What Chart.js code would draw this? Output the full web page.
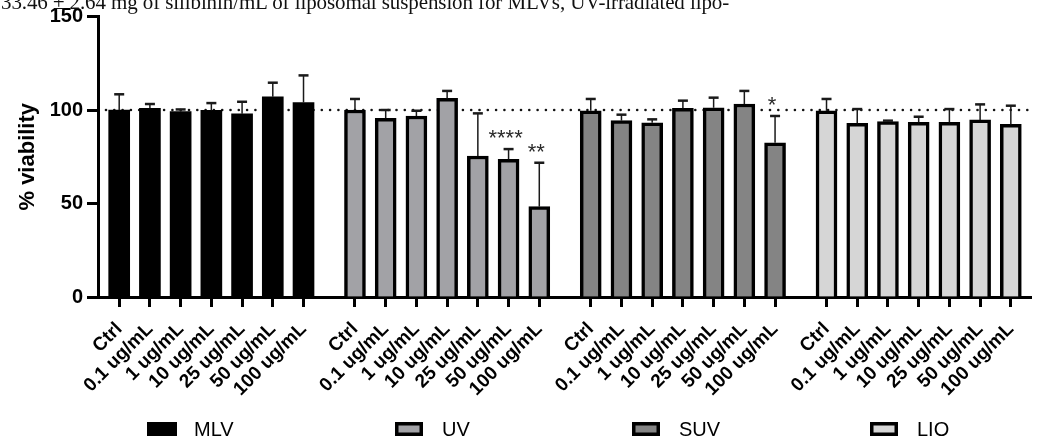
<!DOCTYPE html>
<html><head><meta charset="utf-8">
<script src="https://cdn.jsdelivr.net/npm/chart.js@4.4.1/dist/chart.umd.min.js"></script>
<style>
html,body{margin:0;padding:0;background:#fff;}
#wrap{position:relative;width:1038px;height:444px;overflow:hidden;}
#note{position:absolute;left:1px;top:-10px;font-family:"Liberation Serif",serif;font-size:21px;white-space:nowrap;color:#111;z-index:2;letter-spacing:-0.1px;}
canvas{position:absolute;left:0;top:0;}
</style></head><body>
<div id="wrap"><canvas id="c" width="1038" height="444"></canvas><div id="note">33.46 ± 2.64 mg of silibinin/mL of liposomal suspension for MLVs, UV-irradiated lipo-</div></div>
<script>
// ---- data ----
const categories = ['Ctrl', '0.1 ug/mL', '1 ug/mL', '10 ug/mL', '25 ug/mL', '50 ug/mL', '100 ug/mL'];
const groupNames = ['MLV', 'UV', 'SUV', 'LIO'];
const mlvMean = [100.0, 100.9, 99.1, 99.8, 98.0, 107.1, 104.0];
const mlvSD   = [8.4, 2.3, 1.2, 3.9, 6.4, 7.5, 14.5];
const uvMean  = [100.0, 95.6, 96.8, 106.2, 75.4, 73.6, 48.3];
const uvSD    = [5.9, 4.4, 2.8, 4.0, 22.8, 5.5, 23.5];
const suvMean = [99.6, 94.3, 93.2, 100.9, 101.2, 103.2, 82.5];
const suvSD   = [6.3, 3.2, 1.8, 4.1, 5.4, 7.0, 14.3];
const lioMean = [99.5, 92.9, 93.8, 93.4, 93.4, 94.7, 92.3];
const lioSD   = [6.4, 7.6, 0.5, 3.0, 7.1, 8.3, 10.0];
const uvStars  = ['', '', '', '', '', '****', '**'];
const suvStars = ['', '', '', '', '', '', '*'];
const noStars  = ['', '', '', '', '', '', ''];
const yTicks = [0, 50, 100, 150];
const refLine = 100;

// ---- layout helpers ----
const GROUP_GAP = 0.675;           // extra slot width between groups
const slotPos = (g, i) => g * (categories.length + GROUP_GAP) + i;
const allMeans = [mlvMean, uvMean, suvMean, lioMean];
const allSD = [mlvSD, uvSD, suvSD, lioSD];
const allStars = [noStars, uvStars, suvStars, noStars];
const fills = ['#000000', '#a2a2a6', '#848484', '#d6d6d6'];
const borders = [0, 3.5, 3.5, 3.5];
const tickPositions = [];
groupNames.forEach((n, g) => categories.forEach((c, i) => tickPositions.push(slotPos(g, i))));

const datasets = groupNames.map((name, g) => ({
  label: name,
  data: allMeans[g].map((v, i) => ({ x: slotPos(g, i), y: v })),
  sd: allSD[g],
  stars: allStars[g],
  backgroundColor: fills[g],
  borderColor: '#000',
  borderWidth: borders[g],
  borderSkipped: 'start',
  barThickness: 21,
  grouped: false
}));

const BOLD = '"Liberation Sans", Arial, sans-serif';

const decor = {
  id: 'decor',
  beforeDatasetsDraw(chart) {
    const { ctx, chartArea } = chart;
    const y = chart.scales.y.getPixelForValue(refLine);
    ctx.save();
    ctx.fillStyle = '#111';
    for (let x = chartArea.left + 8; x <= chartArea.right; x += 8.3) {
      ctx.beginPath(); ctx.arc(x, y, 1.3, 0, Math.PI * 2); ctx.fill();
    }
    ctx.restore();
  },
  afterDatasetsDraw(chart) {
    const { ctx } = chart;
    const ys = chart.scales.y;
    ctx.save();
    chart.data.datasets.forEach((ds, di) => {
      const meta = chart.getDatasetMeta(di);
      meta.data.forEach((bar, i) => {
        const v = ds.data[i].y, e = ds.sd[i];
        const yb = ys.getPixelForValue(v), yt = ys.getPixelForValue(v + e);
        ctx.strokeStyle = '#1a1a1a';
        ctx.lineWidth = 1.5;
        ctx.beginPath(); ctx.moveTo(bar.x, yb); ctx.lineTo(bar.x, yt); ctx.stroke();
        ctx.lineWidth = 2.5;
        ctx.beginPath(); ctx.moveTo(bar.x - 5, yt); ctx.lineTo(bar.x + 5, yt); ctx.stroke();
        const s = ds.stars[i];
        if (s) {
          ctx.fillStyle = '#2a2a2a';
          ctx.font = '22px ' + BOLD;
          ctx.textAlign = 'center';
          ctx.textBaseline = 'middle';
          const step = 8.6;
          const x0 = bar.x - 3 - (s.length - 1) * step / 2;
          for (let k = 0; k < s.length; k++) ctx.fillText('*', x0 + k * step, yt - 10);
        }
      });
    });
    ctx.restore();
  },
  afterDraw(chart) {
    const { ctx } = chart;
    const xs = [147, 395, 632, 870];
    const cy = 429;
    ctx.save();
    chart.data.datasets.forEach((ds, g) => {
      const x = xs[g];
      if (ds.borderWidth) {
        ctx.fillStyle = '#000';
        ctx.fillRect(x, cy - 7, 28, 14);
        ctx.fillStyle = ds.backgroundColor;
        ctx.fillRect(x + 3.5, cy - 3.5, 21, 7);
      } else {
        ctx.fillStyle = ds.backgroundColor;
        ctx.fillRect(x, cy - 7, 30, 14);
      }
      ctx.fillStyle = '#000';
      ctx.font = '20px ' + BOLD;
      ctx.textAlign = 'left';
      ctx.textBaseline = 'middle';
      ctx.fillText(ds.label, x + 47, cy + 1);
    });
    ctx.restore();
  }
};

new Chart(document.getElementById('c'), {
  type: 'bar',
  data: { datasets },
  options: {
    responsive: false,
    animation: false,
    devicePixelRatio: 1,
    layout: { padding: { top: 16.5, right: 2, left: 0, bottom: 0 } },
    plugins: { legend: { display: false }, tooltip: { enabled: false } },
    scales: {
      x: {
        type: 'linear',
        offset: false,
        min: -0.69,
        max: 29.7,
        afterFit: s => { s.height = 147; },
        afterBuildTicks: s => { s.ticks = tickPositions.map(v => ({ value: v })); },
        grid: { drawOnChartArea: false, offset: false, tickLength: 10, tickWidth: 3, tickColor: '#000' },
        border: { width: 3, color: '#000' },
        ticks: {
          autoSkip: false, minRotation: 45, maxRotation: 45, padding: 11,
          color: '#000', font: { family: BOLD, size: 19, weight: 'bold' },
          callback: (v, idx) => categories[idx % categories.length]
        }
      },
      y: {
        min: 0, max: 150,
        afterFit: s => { s.width = 98; },
        afterBuildTicks: s => { s.ticks = yTicks.map(v => ({ value: v })); },
        grid: { drawOnChartArea: false, tickLength: 11, tickWidth: 3, tickColor: '#000' },
        border: { width: 3, color: '#000' },
        ticks: { padding: 4, color: '#000', font: { family: BOLD, size: 20, weight: 'bold' } },
        title: { display: true, text: '% viability', color: '#000', padding: { top: 15, bottom: 0 },
                 font: { family: BOLD, size: 22, weight: 'bold' } }
      }
    }
  },
  plugins: [decor]
});
</script>
</body></html>
